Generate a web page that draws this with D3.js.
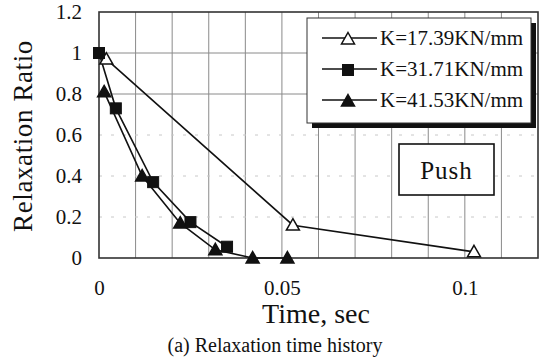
<!DOCTYPE html>
<html><head><meta charset="utf-8">
<script src="https://cdn.jsdelivr.net/npm/d3@7"></script>
</head><body style="margin:0;background:#fff">
<script>
const seriesNames = ["K=17.39KN/mm", "K=31.71KN/mm", "K=41.53KN/mm"];
const markerTypes = ["openTriangle", "square", "triangle"];
const t1 = [0.002, 0.053, 0.1025];
const r1 = [0.97, 0.16, 0.03];
const t2 = [0.0, 0.0046, 0.0148, 0.025, 0.035];
const r2 = [1.0, 0.73, 0.37, 0.175, 0.055];
const t3 = [0.0014, 0.0118, 0.0222, 0.0318, 0.042, 0.0515];
const r3 = [0.81, 0.4, 0.17, 0.04, 0.0, 0.0];
const xTicks = [0, 0.05, 0.1];
const xTickLabels = ["0", "0.05", "0.1"];
const yTicks = [0, 0.2, 0.4, 0.6, 0.8, 1.0, 1.2];
const yTickLabels = ["0", "0.2", "0.4", "0.6", "0.8", "1", "1.2"];
const xGrid = d3.range(1, 12).map(i => i * 0.01);
const xTitle = "Time, sec";
const yTitle = "Relaxation Ratio";
const caption = "(a) Relaxation time history";
const note = "Push";

const FONT = "Liberation Serif";
const W = 546, H = 361;
const m = {left: 99, right: 546 - 538, top: 12, bottom: 361 - 258};
const svg = d3.select("body").append("svg").attr("width", W).attr("height", H).style("display", "block");
const x = d3.scaleLinear().domain([0, 0.12]).range([m.left, W - m.right]);
const y = d3.scaleLinear().domain([0, 1.2]).range([H - m.bottom, m.top]);

// grid
svg.append("g").selectAll("line").data(xGrid).join("line")
  .attr("x1", d => x(d)).attr("x2", d => x(d)).attr("y1", y(0)).attr("y2", y(1.2))
  .attr("stroke", "#8a8a8a").attr("stroke-width", 1);
svg.append("g").selectAll("line").data(yTicks.slice(1, -1)).join("line")
  .attr("x1", x(0)).attr("x2", x(0.12)).attr("y1", d => y(d)).attr("y2", d => y(d))
  .attr("stroke", d => d >= 0.8 ? "#8a8a8a" : "#c8c8c8").attr("stroke-width", 1)
  .attr("stroke-dasharray", d => d >= 0.8 ? null : "3,9");

// frame
svg.append("rect").attr("x", x(0)).attr("y", y(1.2)).attr("width", x(0.12) - x(0)).attr("height", y(0) - y(1.2))
  .attr("fill", "none").attr("stroke", "#333").attr("stroke-width", 1.6);

// axes labels
const yAxis = d3.axisLeft(y).tickValues(yTicks).tickFormat((d, i) => yTickLabels[i]).tickSize(0).tickPadding(17);
const gy = svg.append("g").attr("transform", `translate(${x(0)},0)`).call(yAxis)
  .attr("font-family", FONT).attr("font-size", 21);
gy.select(".domain").remove();
gy.selectAll("text").style("font-family", FONT).style("font-size", "21px").attr("fill", "#111");

const xAxis = d3.axisBottom(x).tickValues(xTicks).tickFormat((d, i) => xTickLabels[i]).tickSize(0).tickPadding(22);
const gx = svg.append("g").attr("transform", `translate(0,${y(0)})`).call(xAxis)
  .attr("font-family", FONT).attr("font-size", 21);
gx.select(".domain").remove();
gx.selectAll("text").style("font-family", FONT).style("font-size", "21px").attr("fill", "#111");

function txt(x0, y0, s, size, anchor) {
  return svg.append("text").attr("x", x0).attr("y", y0).attr("text-anchor", anchor || "middle")
    .style("font-family", FONT).style("font-size", size + "px").attr("fill", "#111").text(s);
}
txt(0, 0, yTitle, 27).attr("transform", "translate(32,136) rotate(-90)").attr("letter-spacing", 0.6);
txt(316, 323, xTitle, 28);
txt(275, 352, caption, 20);

// series
const data = [
  {pts: t1.map((t, i) => [t, r1[i]]), type: markerTypes[0]},
  {pts: t2.map((t, i) => [t, r2[i]]), type: markerTypes[1]},
  {pts: t3.map((t, i) => [t, r3[i]]), type: markerTypes[2]}
];
const line = d3.line().x(d => x(d[0])).y(d => y(d[1]));
function drawMarker(g, type, cx, cy) {
  if (type === "square") {
    g.append("rect").attr("x", cx - 5.5).attr("y", cy - 5.5).attr("width", 11).attr("height", 11)
      .attr("fill", "#111").attr("stroke", "#111").attr("stroke-width", 1);
  } else {
    const s = 6.5;
    g.append("path").attr("d", `M${cx},${cy - s}L${cx + s},${cy + s * 0.75}L${cx - s},${cy + s * 0.75}Z`)
      .attr("fill", type === "openTriangle" ? "#fff" : "#111").attr("stroke", "#111").attr("stroke-width", 1.5);
  }
}
data.forEach(s => {
  svg.append("path").datum(s.pts).attr("d", line).attr("fill", "none").attr("stroke", "#111").attr("stroke-width", 1.6);
});
data.forEach(s => {
  const g = svg.append("g");
  s.pts.forEach(p => drawMarker(g, s.type, x(p[0]), y(p[1])));
});

// legend
const lg = svg.append("g");
lg.append("rect").attr("x", 312).attr("y", 23).attr("width", 224).attr("height", 105).attr("fill", "#111");
lg.append("rect").attr("x", 307).attr("y", 18).attr("width", 224).attr("height", 105).attr("fill", "#fff")
  .attr("stroke", "#333").attr("stroke-width", 1);
seriesNames.forEach((n, i) => {
  const ly = 38 + i * 31;
  lg.append("line").attr("x1", 322).attr("x2", 377).attr("y1", ly).attr("y2", ly).attr("stroke", "#111").attr("stroke-width", 1.6);
  drawMarker(lg, markerTypes[i], 348, ly + 1);
  lg.append("text").attr("x", 380).attr("y", ly + 7).style("font-family", FONT).style("font-size", "21px").attr("fill", "#111").text(n);
});

// Push box
svg.append("rect").attr("x", 399).attr("y", 144).attr("width", 95).attr("height", 51)
  .attr("fill", "#fff").attr("stroke", "#111").attr("stroke-width", 1.6);
txt(446.5, 179, note, 25).attr("letter-spacing", 1);
</script>
</body></html>
